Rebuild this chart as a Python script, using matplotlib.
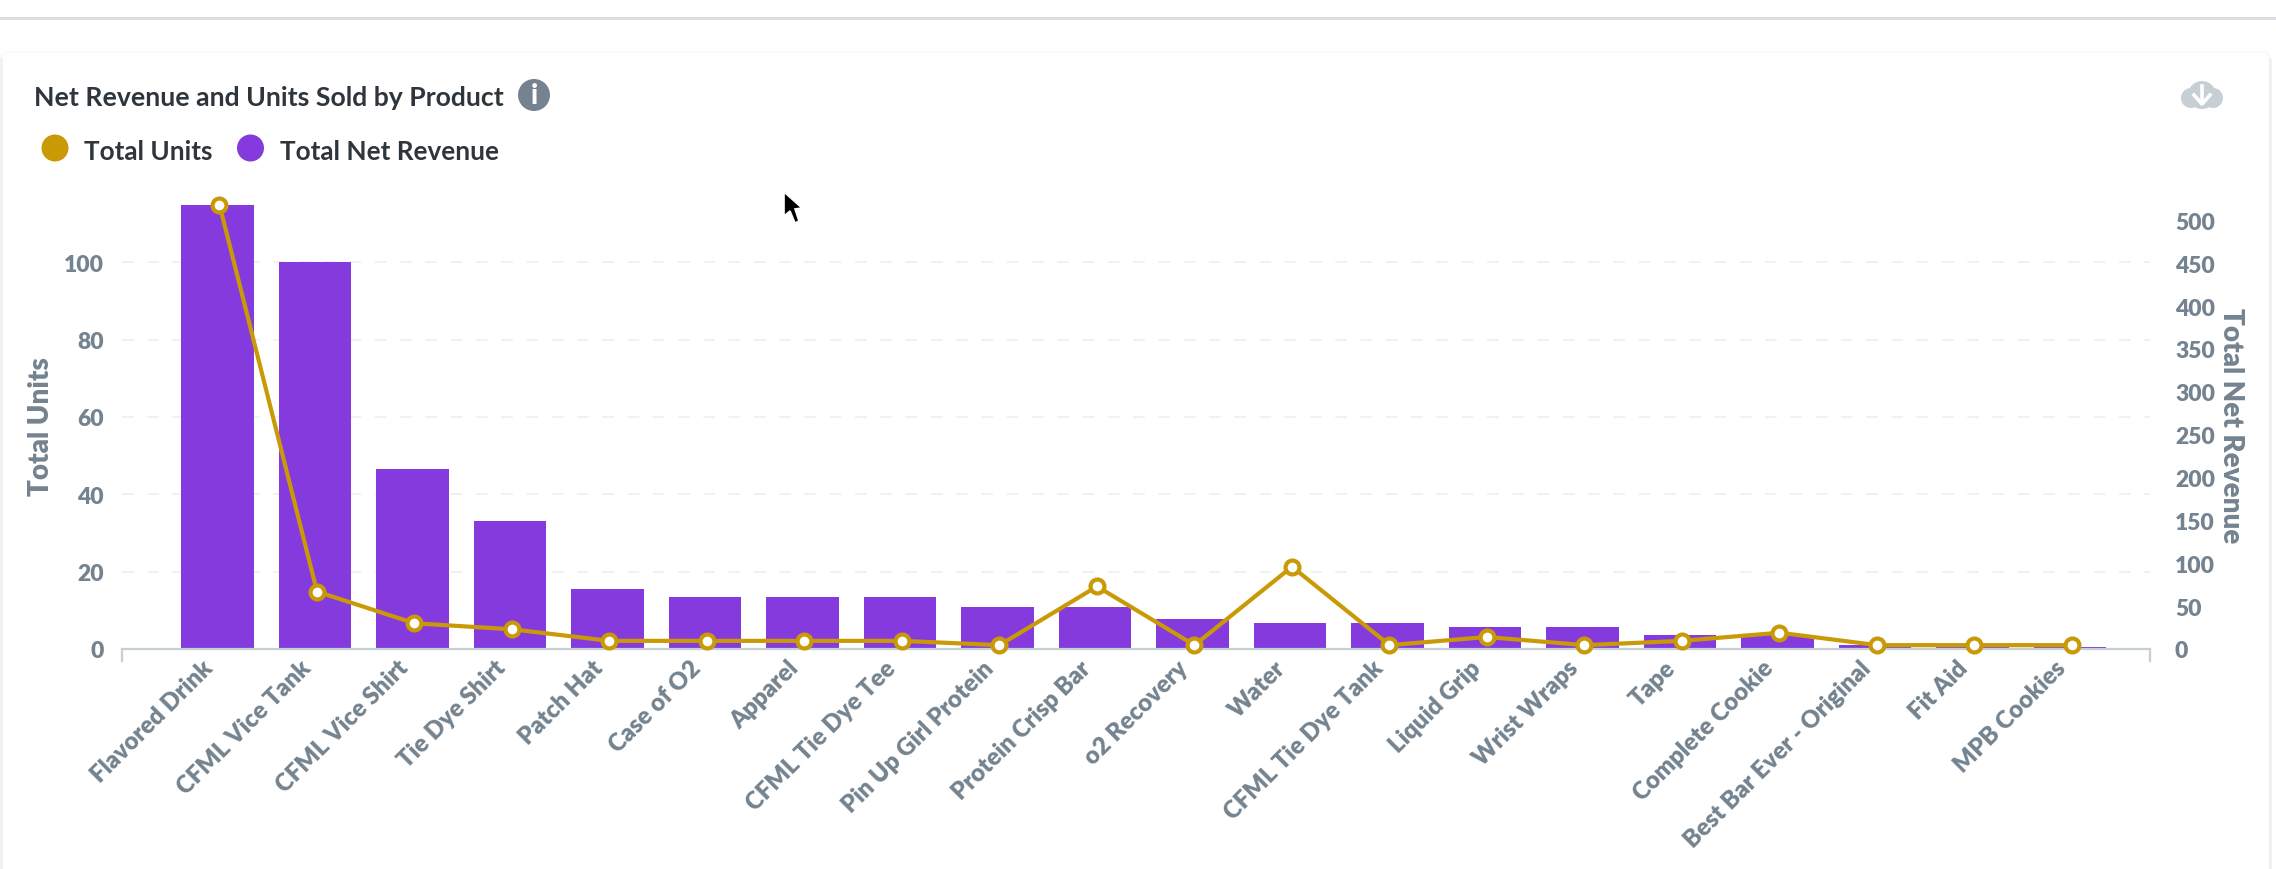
import matplotlib
matplotlib.use("Agg")
import matplotlib.pyplot as plt
from matplotlib.patches import Circle, FancyBboxPatch, Polygon
import numpy as np

products = ["Flavored Drink", "CFML Vice Tank", "CFML Vice Shirt", "Tie Dye Shirt", "Patch Hat",
            "Case of O2", "Apparel", "CFML Tie Dye Tee", "Pin Up Girl Protein", "Protein Crisp Bar",
            "o2 Recovery", "Water", "CFML Tie Dye Tank", "Liquid Grip", "Wrist Wraps", "Tape",
            "Complete Cookie", "Best Bar Ever - Original", "Fit Aid", "MPB Cookies"]
bar_values = [115, 100, 46.5, 33, 15.5, 13.4, 13.4, 13.4, 10.9, 10.9, 7.8, 6.7, 6.7, 5.7, 5.7, 3.6, 3.6, 1, 1, 0.5]
line_values = [518, 67, 30, 23, 9.5, 9.5, 9.5, 9.5, 4.5, 73, 4.5, 96, 4.5, 14, 4.5, 9.5, 19, 4.5, 4.5, 4.5]
left_ticks = [0, 20, 40, 60, 80, 100]
right_ticks = [0, 50, 100, 150, 200, 250, 300, 350, 400, 450, 500]

PURPLE = "#853ADD"
GOLD = "#C99A06"
SLATE = "#74838F"
DARK = "#2E353B"
AXIS = "#C6CFD4"
plt.rcParams["font.family"] = ["Lato", "DejaVu Sans"]

W, H = 2276, 870
fig = plt.figure(figsize=(W / 100, H / 100), dpi=100, facecolor="white")

# page chrome, in pixel coordinates
bg = fig.add_axes([0, 0, 1, 1], zorder=0)
bg.set_xlim(0, W); bg.set_ylim(H, 0); bg.axis("off")
bg.plot([0, W], [19, 19], color="#DCDDE3", lw=2.2)
bg.add_patch(FancyBboxPatch((1, 53), 2269, 900, boxstyle="round,pad=0,rounding_size=8",
                            fc="white", ec="#FAFAFB", lw=1.5))
bg.plot([1, 1], [60, H], color="#F0F1F2", lw=2)
bg.plot([2270, 2270], [60, H], color="#F0F1F2", lw=2)

left, right, top, bottom = 122, 2150, 206, 650
ax = fig.add_axes([left / W, 1 - bottom / H, (right - left) / W, (bottom - top) / H], zorder=1)
ax.patch.set_alpha(0)
x = np.arange(len(products))
ax.bar(x, bar_values, width=0.74, color=PURPLE, zorder=2)
ax.set_xlim(-0.98, 19.82)
ax.set_ylim(0, 114.8)
ax.set_yticks(left_ticks)
ax.set_xticks(x)
ax.set_xticklabels([""] * len(products))
for xi, name in zip(x, products):
    ax.annotate(name, xy=(xi, 0), xycoords=("data", "axes fraction"), xytext=(-8, -15),
                textcoords="offset pixels", rotation=45, ha="right", va="center",
                rotation_mode="anchor", fontsize=17.3, fontweight=800, color=SLATE,
                annotation_clip=False)
ax.tick_params(axis="x", length=0)
ax.tick_params(axis="y", length=0, pad=13, labelsize=16.5, labelcolor=SLATE)
for t in ax.get_yticklabels():
    t.set_fontweight(800)
for s in ("top", "left", "right"):
    ax.spines[s].set_visible(False)
ax.spines["bottom"].set_color(AXIS)
ax.spines["bottom"].set_linewidth(1.6)
ax.yaxis.grid(True, color="#F0F1F2", lw=1.4, ls=(0, (6, 7)), zorder=0)
ax.set_axisbelow(True)
for px in (left, right):
    bg.plot([px, px], [650, 662], color=AXIS, lw=1.6, zorder=3)

ax2 = ax.twinx()
ax2.patch.set_alpha(0)
ax2.set_ylim(0, 518)
ax2.set_yticks(right_ticks)
ax2.tick_params(axis="y", length=0, pad=18, labelsize=16.5, labelcolor=SLATE)
for t in ax2.get_yticklabels():
    t.set_fontweight(800)
for s in ax2.spines.values():
    s.set_visible(False)
ax2.plot(x + 0.02, line_values, color=GOLD, lw=3, marker="o", ms=10, mfc="white",
         mec=GOLD, mew=3, clip_on=False, zorder=5)

# axis titles
bg.text(41, 427, "Total Units", rotation=90, ha="center", va="center", fontsize=20,
        fontweight=800, color=SLATE)
bg.text(2231, 426, "Total Net Revenue", rotation=270, ha="center", va="center", fontsize=20,
        fontweight=800, color=SLATE)

# header
bg.text(34, 98, "Net Revenue and Units Sold by Product", ha="left", va="center",
        fontsize=19.2, fontweight=700, color=DARK)
bg.add_patch(Circle((534, 96), 16, fc=SLATE, ec="none"))
bg.text(534, 96, "i", ha="center", va="center", fontsize=20, fontweight=900, color="white")
bg.add_patch(Circle((55, 149), 13.5, fc=GOLD, ec="none"))
bg.text(84, 152, "Total Units", ha="left", va="center", fontsize=18.8, color=DARK, fontweight=700)
bg.add_patch(Circle((250.5, 149), 13.5, fc=PURPLE, ec="none"))
bg.text(280, 152, "Total Net Revenue", ha="left", va="center", fontsize=18.8, color=DARK, fontweight=700)

# download icon
CLOUD = "#C6CFD4"
bg.add_patch(Circle((2202, 96), 14, fc=CLOUD, ec="none"))
bg.add_patch(Circle((2191, 99), 10, fc=CLOUD, ec="none"))
bg.add_patch(Circle((2213, 99), 10, fc=CLOUD, ec="none"))
bg.add_patch(FancyBboxPatch((2185, 94), 34, 14, boxstyle="round,pad=0,rounding_size=5", fc=CLOUD, ec="none"))
bg.plot([2202, 2202], [87, 104], color="white", lw=2.6)
bg.plot([2194, 2202, 2210], [96, 105, 96], color="white", lw=2.6)

# mouse cursor
bg.add_patch(Polygon([(784, 193), (784, 217), (790, 212), (795, 224), (799, 222), (795, 210), (802, 209)],
                     closed=True, fc="black", ec="white", lw=1.2, zorder=10))

fig.savefig("out.png", dpi=100, facecolor="white")
